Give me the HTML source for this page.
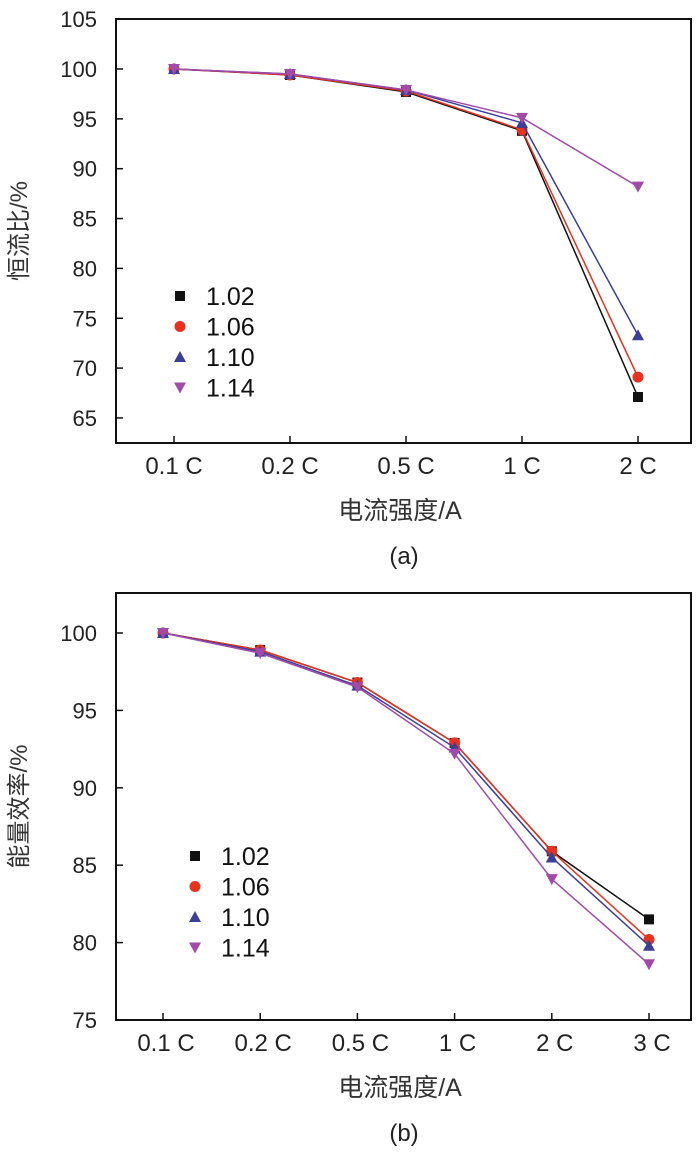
<!DOCTYPE html>
<html><head><meta charset="utf-8"><style>
html,body{margin:0;padding:0;background:#fff;}
svg{display:block;font-family:"Liberation Sans","Noto Sans CJK SC",sans-serif;}
</style></head><body>
<svg id="svg" width="700" height="1152" viewBox="0 0 700 1152"></svg>
<script>
const catsA = ["0.1 C","0.2 C","0.5 C","1 C","2 C"];
const ticksA = [65,70,75,80,85,90,95,100,105];
const a102 = [100,99.4,97.7,93.8,67.1];
const a106 = [100,99.4,97.8,93.9,69.1];
const a110 = [100,99.5,97.9,94.6,73.3];
const a114 = [100,99.5,97.9,95.1,88.2];
const catsB = ["0.1 C","0.2 C","0.5 C","1 C","2 C","3 C"];
const ticksB = [75,80,85,90,95,100];
const b102 = [100,98.9,96.8,92.9,85.9,81.5];
const b106 = [100,98.9,96.8,92.9,85.9,80.2];
const b110 = [100,98.8,96.6,92.6,85.5,79.8];
const b114 = [100,98.7,96.5,92.2,84.1,78.6];
const seriesNames = ["1.02","1.06","1.10","1.14"];

const NS="http://www.w3.org/2000/svg";
const svg=document.getElementById('svg');
function mk(tag,attrs,parent){const e=document.createElementNS(NS,tag);for(const k in attrs)e.setAttribute(k,attrs[k]);(parent||svg).appendChild(e);return e;}
const colors=["#111","#e8321e","#3a3f9a","#a24aa8"];
const shapes=["square","circle","up","down"];
function marker(g,shape,x,y,c,s){
  let e;
  if(shape==="square") e=mk('rect',{x:x-5,y:y-5,width:10,height:10,fill:c},g);
  else if(shape==="circle") e=mk('circle',{cx:x,cy:y,r:5.5,fill:c},g);
  else if(shape==="up") e=mk('polygon',{points:`${x-6},${y+5} ${x+6},${y+5} ${x},${y-6}`,fill:c},g);
  else e=mk('polygon',{points:`${x-6},${y-5} ${x+6},${y-5} ${x},${y+6}`,fill:c},g);
  return e;
}
function chart(o){
  const g=mk('g',{});
  
  
  const xs=i=>o.x0+i*o.dx;
  const ys=v=>o.yTop+(o.vTop-v)*o.ppu;
  const fr=mk('rect',{x:o.L,y:o.T,width:o.R-o.L,height:o.B-o.T,fill:'none',stroke:'#111','stroke-width':2},g);
  
  o.ticks.forEach(t=>{
    const y=ys(t);
    mk('line',{x1:o.L,x2:o.L+7,y1:y,y2:y,stroke:'#111','stroke-width':1.5},g);
    const tx=mk('text',{x:97,y:y+8,'text-anchor':'end','font-size':22,fill:'#222'},g);
    tx.textContent=t;
    
  });
  o.cats.forEach((c,i)=>{
    const x=xs(i);
    mk('line',{x1:x,x2:x,y1:o.B,y2:o.B-7,stroke:'#111','stroke-width':1.5},g);
    const tx=mk('text',{x:x+o.lblOff,y:o.B+31,'text-anchor':'middle','font-size':24,fill:'#222'},g);
    tx.textContent=c;
    
  });
  o.series.forEach((s,k)=>{
    const sg=mk('g',{},g);
    
    
    mk('polyline',{points:s.map((v,i)=>xs(i)+','+ys(v)).join(' '),fill:'none',stroke:colors[k],'stroke-width':1.5},sg);
    s.forEach((v,i)=>{const m=marker(sg,shapes[k],xs(i),ys(v),colors[k]);
      });
  });
  const lg=mk('g',{},g);
  
  seriesNames.forEach((n,k)=>{
    const y=o.legY+k*30.5;
    const m=marker(lg,shapes[k],o.legX,y,colors[k]);
    
    const t=mk('text',{x:o.legX+26,y:y+9,'font-size':25,fill:'#111'},lg);
    t.textContent=n;
    
  });
  const yt=mk('text',{x:0,y:0,transform:`translate(27,${(o.T+o.B)/2}) rotate(-90)`,'text-anchor':'middle','font-size':24,fill:'#333'},g);
  yt.textContent=o.ytitle;
  
  const xt=mk('text',{x:400,y:o.B+76,'text-anchor':'middle','font-size':25,fill:'#333'},g);
  xt.textContent='电流强度/A';
  
  const pl=mk('text',{x:404,y:o.B+121,'text-anchor':'middle','font-size':24,fill:'#222'},g);
  pl.textContent=o.panel;
  
}
chart({name:'chart-a',L:116,R:691,T:19,B:443,x0:174,dx:116,yTop:69,vTop:100,ppu:9.97,ticks:ticksA,cats:catsA,lblOff:0,
  series:[a102,a106,a110,a114],legX:180,legY:296,ytitle:'恒流比/%',panel:'(a)'});
chart({name:'chart-b',L:116,R:691,T:593,B:1020,x0:163,dx:97.2,yTop:633,vTop:100,ppu:15.48,ticks:ticksB,cats:catsB,lblOff:3,
  series:[b102,b106,b110,b114],legX:195,legY:856,ytitle:'能量效率/%',panel:'(b)'});
</script>
</body></html>
